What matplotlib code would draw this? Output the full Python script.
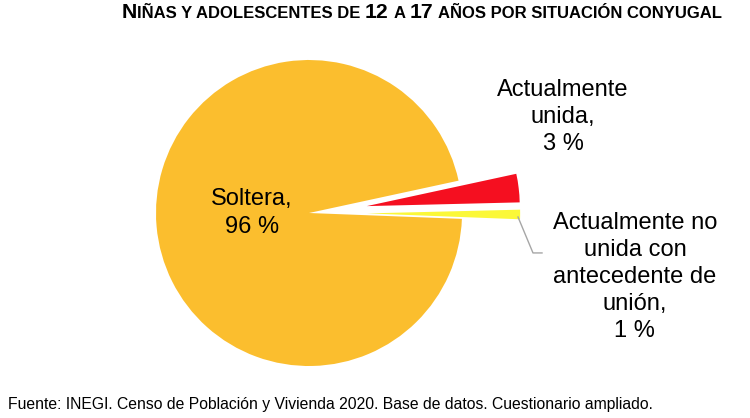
import matplotlib
matplotlib.use("Agg")
import matplotlib.pyplot as plt

# --- datos ---
categorias = ["Soltera", "Actualmente unida", "Actualmente no unida con antecedente de unión"]
porcentajes = [96, 3, 1]
etiquetas = ["Soltera,\n96 %",
             "Actualmente\nunida,\n3 %",
             "Actualmente no\nunida con\nantecedente de\nunión,\n1 %"]
colores = ["#FBBE2E", "#F50F20", "#FBF838"]

titulo = [("N", "g"), ("IÑAS Y ADOLESCENTES DE", "p"), (" ", "p"), ("12", "g"),
          (" ", "p"), ("A", "p"), (" ", "p"), ("17", "g"), (" ", "p"),
          ("AÑOS POR SITUACIÓN CONYUGAL", "p")]
fuente = "Fuente: INEGI. Censo de Población y Vivienda 2020. Base de datos. Cuestionario ampliado."

plt.rcParams["font.family"] = ["Liberation Sans", "DejaVu Sans"]

W, H = 750, 418
fig = plt.figure(figsize=(7.5, 4.18), dpi=100)
ax = fig.add_axes([0, 0, 1, 1])

# centro y radio del pastel en pixeles
cx, cy, R = 309, 205, 153

wedges, _ = ax.pie(porcentajes, colors=colores, explode=[0, 0.38, 0.38],
                   startangle=-2.2, counterclock=False, radius=1,
                   wedgeprops=dict(linewidth=0))
ax.set_xlim(-cx / R, (W - cx) / R)
ax.set_ylim(-cy / R, (H - cy) / R)
ax.set_aspect("auto")

fs = 17
ls = 1.3
ax.text(-0.373, 0.0, etiquetas[0], ha="center", va="center", fontsize=fs,
        linespacing=ls)
ax.text(1.66, 0.627, etiquetas[1], ha="center", va="center", fontsize=fs,
        linespacing=ls)
ax.text(2.13, -0.418, etiquetas[2], ha="center", va="center", fontsize=fs,
        linespacing=ls)
ax.plot([1.366, 1.464, 1.523], [-0.026, -0.261, -0.261], color="#A6A6A6", lw=1)

# --- titulo en versalitas ---
tam = {"g": 15.3, "p": 12}
renderer = fig.canvas.get_renderer()

def ancho(txt, size):
    t = fig.text(0, 0, txt, fontsize=size, fontweight="bold")
    w = t.get_window_extent(renderer).width
    t.remove()
    return w

anchos = []
for txt, k in titulo:
    if txt == " ":
        anchos.append(ancho("N N", tam[k]) - ancho("NN", tam[k]))
    else:
        anchos.append(ancho(txt, tam[k]))

x = 722 - sum(anchos)
base_y = H - 18
for (txt, k), w in zip(titulo, anchos):
    if txt != " ":
        fig.text(x / W, base_y / H, txt, fontsize=tam[k], fontweight="bold",
                 va="baseline", ha="left")
    x += w

fig.text(8 / W, 1 - 405 / H, fuente, fontsize=11.3, va="center", ha="left")

fig.savefig("out.png", dpi=100)
